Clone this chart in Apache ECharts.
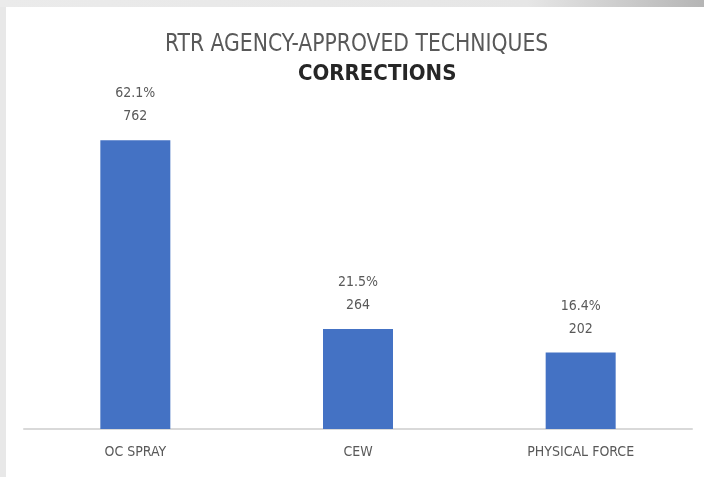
<!DOCTYPE html>
<html lang="en">
<head>
    <meta charset="UTF-8">
    <title>RTR Agency-Approved Techniques</title>
    <script src="https://cdn.jsdelivr.net/npm/echarts@6/dist/echarts.min.js"></script>
    <style>
        html,body{margin:0;padding:0;background:#fff}
        #chart{width:704px;height:477px}
    </style>
</head>
<body>
<div id="chart"></div>
<script>
// data
var categories = ["OC SPRAY", "CEW", "PHYSICAL FORCE"];
var counts = [762, 264, 202];
var percents = ["62.1%", "21.5%", "16.4%"];

var narrow = "'Liberation Sans Narrow','DejaVu Sans Condensed',sans-serif";

var myChart = echarts.init(document.getElementById('chart'));
var option = {
    backgroundColor: '#ffffff',
    animation: false,
    graphic: [
        {type: 'rect', left: 0, top: 0, shape: {width: 6, height: 477}, style: {fill: '#e8e8e8'}, silent: true},
        {type: 'rect', left: 0, top: 0, shape: {width: 704, height: 7},
            style: {fill: new echarts.graphic.LinearGradient(0, 0, 1, 0, [
                {offset: 0, color: '#ebebeb'}, {offset: 0.75, color: '#e6e6e6'}, {offset: 1, color: '#b5b5b5'}])},
            silent: true},
        // title is drawn a bit condensed, like the original
        {type: 'text', x: 165, y: 32, scaleX: 0.905,
            style: {text: 'RTR AGENCY-APPROVED TECHNIQUES', font: '25px ' + narrow, fill: '#595959'}},
        {type: 'text', x: 298, y: 63,
            style: {text: 'CORRECTIONS', font: 'bold 22px ' + narrow, fill: '#262626'}}
    ],
    grid: {left: 24, right: 12, top: 88, bottom: 48},
    xAxis: {
        type: 'category',
        data: categories,
        axisLine: {lineStyle: {color: '#d9d9d9', width: 2}},
        axisTick: {show: false},
        axisLabel: {color: '#595959', fontFamily: narrow, fontSize: 14, margin: 16}
    },
    yAxis: {
        type: 'value',
        min: 0,
        max: 900,
        show: false,
        splitLine: {show: false}
    },
    series: [{
        type: 'bar',
        data: counts,
        barWidth: 70,
        itemStyle: {color: '#4472c4'},
        label: {
            show: true,
            position: 'top',
            distance: 12,
            color: '#595959',
            fontFamily: narrow,
            fontSize: 14,
            lineHeight: 23,
            formatter: function(p){
                return percents[p.dataIndex] + "\n" + p.value;
            }
        }
    }]
};
myChart.setOption(option);
</script>
</body>
</html>
